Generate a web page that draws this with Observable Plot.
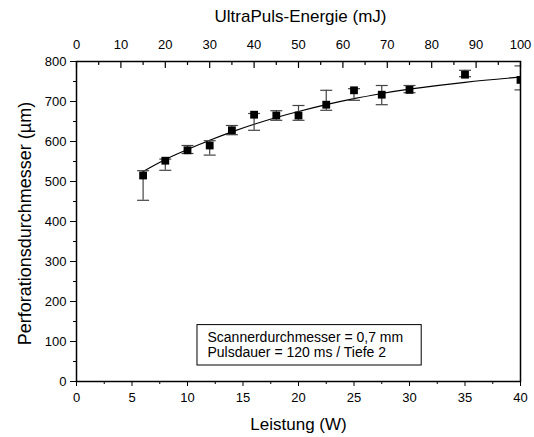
<!DOCTYPE html>
<html>
<head>
<meta charset="utf-8">
<script src="https://cdn.jsdelivr.net/npm/d3@7"></script>
<script src="https://cdn.jsdelivr.net/npm/@observablehq/plot@0.6"></script>
<style>
  body { margin: 0; background: #fff; }
</style>
</head>
<body>
<div id="chart"></div>
<script>
// ---- data ----
const leistung     = [6, 8, 10, 12, 14, 16, 18, 20, 22.5, 25, 27.5, 30, 35, 40];
const durchmesser  = [515, 552, 578, 590, 628, 667, 665, 665, 692, 728, 717, 729, 767, 754];
const fehlerOben   = [527, 556, 590, 602, 640, 670, 677, 690, 728, 732, 740, 740, 778, 789];
const fehlerUnten  = [453, 528, 570, 566, 617, 628, 653, 653, 678, 703, 692, 722, 762, 729];

const fitLeistung    = [6, 8, 10, 12, 14, 16, 18, 20, 22.5, 25, 27.5, 30, 35, 40];
const fitDurchmesser = [525, 555, 580, 603, 624, 643, 660, 675, 692, 707, 720, 731, 748, 761];

const xTicks       = [0, 5, 10, 15, 20, 25, 30, 35, 40];
const xMinorTicks  = [2.5, 7.5, 12.5, 17.5, 22.5, 27.5, 32.5, 37.5];
const yTicks       = [0, 100, 200, 300, 400, 500, 600, 700, 800];
const yMinorTicks  = [50, 150, 250, 350, 450, 550, 650, 750];
const energieTicks      = [0, 10, 20, 30, 40, 50, 60, 70, 80, 90, 100];
const energieMinorTicks = [5, 15, 25, 35, 45, 55, 65, 75, 85, 95];
const mJproW = 2.5;

const xTitle = "Leistung (W)";
const yTitle = "Perforationsdurchmesser (µm)";
const topTitle = "UltraPuls-Energie (mJ)";
const annotation = ["Scannerdurchmesser = 0,7 mm", "Pulsdauer = 120 ms / Tiefe 2"];

// ---- tables ----
const points = leistung.map((x, i) => ({x, y: durchmesser[i], hi: fehlerOben[i], lo: fehlerUnten[i]}));
const fit = fitLeistung.map((x, i) => ({x, y: fitDurchmesser[i]}));
const caps = points.flatMap(d => [{x: d.x, y: d.hi}, {x: d.x, y: d.lo}]);

const capSymbol = {draw(ctx) { ctx.moveTo(-6, 0); ctx.lineTo(6, 0); }};
const tickDown = {draw(ctx, l) { ctx.moveTo(0, 0); ctx.lineTo(0, l); }};
const font = 13;

const chart = Plot.plot({
  width: 534,
  height: 437,
  marginLeft: 76,
  marginRight: 14,
  marginTop: 61,
  marginBottom: 56,
  style: "font-family: 'Liberation Sans', Arial, sans-serif; background: white; color: black; overflow: visible;",
  x: {domain: [0, 40]},
  y: {domain: [0, 800]},
  marks: [
    // axes
    Plot.axisX(xTicks, {anchor: "bottom", tickSize: 5, tickPadding: 6, fontSize: font, label: null}),
    Plot.axisX(xMinorTicks, {anchor: "bottom", tickSize: 3, tickFormat: () => "", label: null}),
    Plot.axisY(yTicks, {anchor: "left", tickSize: 6, tickPadding: 4, fontSize: font, label: null}),
    Plot.axisY(yMinorTicks, {anchor: "left", tickSize: 3, tickFormat: () => "", label: null}),
    Plot.axisX(energieTicks.map(e => e / mJproW), {anchor: "top", tickSize: 0, tickPadding: 13, fontSize: font, label: null,
      tickFormat: d => String(Math.round(d * mJproW))}),
    Plot.vector(energieTicks.map(e => e / mJproW), {x: d => d, frameAnchor: "top", length: 6, anchor: "start", shape: tickDown, stroke: "black", strokeWidth: 1.2}),
    Plot.vector(energieMinorTicks.map(e => e / mJproW), {x: d => d, frameAnchor: "top", length: 3, anchor: "start", shape: tickDown, stroke: "black", strokeWidth: 1.2}),
    // titles
    Plot.text([topTitle], {frameAnchor: "top", dx: 2, dy: -45, fontSize: 17, lineAnchor: "middle"}),
    Plot.text([xTitle], {frameAnchor: "bottom", dy: 43, fontSize: 17, lineAnchor: "middle"}),
    Plot.text([yTitle], {frameAnchor: "left", dx: -51, dy: 2, rotate: -90, textAnchor: "middle", fontSize: 18, lineAnchor: "middle"}),
    // annotation box
    Plot.rect([0], {x1: 10.9, x2: 31.1, y1: 40, y2: 141, stroke: "black", fill: "white", strokeWidth: 1}),
    Plot.text([annotation.join("\n")], {x: 11.8, y: 91, textAnchor: "start", lineAnchor: "middle", fontSize: 14, lineHeight: 1.07}),
    // fit curve
    Plot.line(fit, {x: "x", y: "y", curve: "natural", stroke: "black", strokeWidth: 1.2, clip: true}),
    // error bars
    Plot.ruleX(points, {x: "x", y1: "lo", y2: "hi", stroke: "#444", strokeWidth: 1.2, clip: true}),
    Plot.dot(caps, {x: "x", y: "y", symbol: capSymbol, stroke: "#444", strokeWidth: 1.2, fill: "none", clip: true}),
    // markers
    Plot.dot(points, {x: "x", y: "y", symbol: "square", r: 4.4, fill: "black", stroke: "none", clip: true}),
    // frame
    Plot.frame({stroke: "black", strokeWidth: 1.5})
  ]
});
document.getElementById("chart").appendChild(chart);
</script>
</body>
</html>
